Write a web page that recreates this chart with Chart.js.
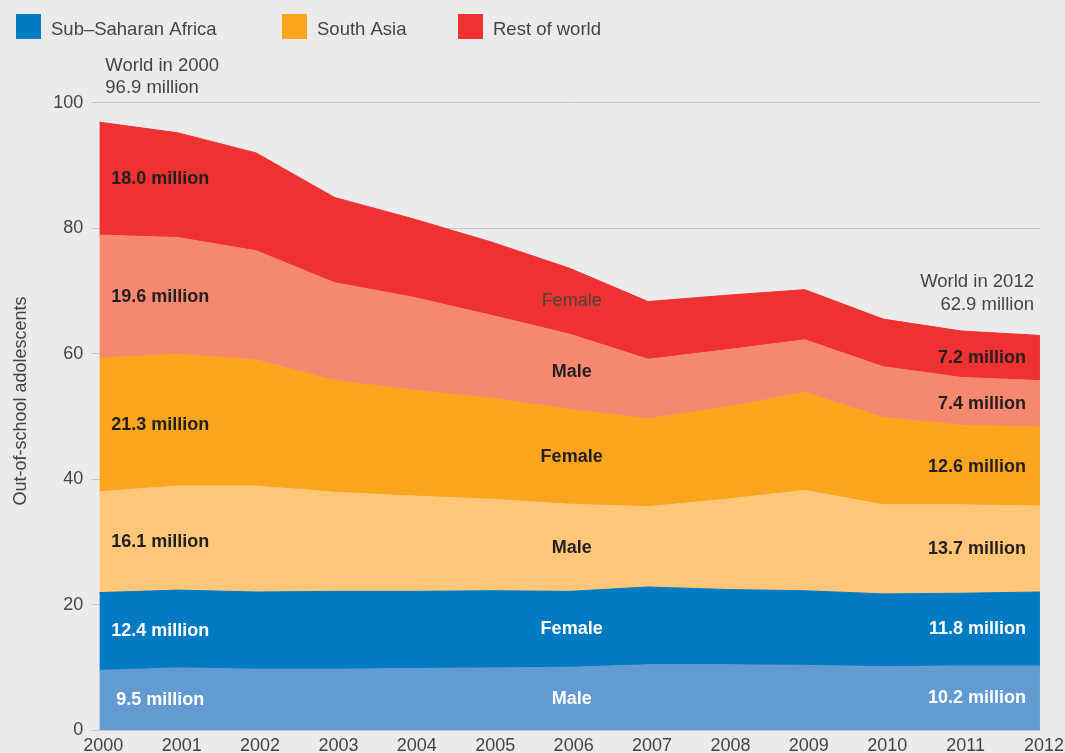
<!DOCTYPE html>
<html>
<head>
<meta charset="utf-8">
<script src="https://cdn.jsdelivr.net/npm/chart.js@4.4.1/dist/chart.umd.min.js"></script>
<style>
html,body{margin:0;padding:0;background:#EAEBEA;}
#wrap{width:1065px;height:753px;position:relative;}
canvas{display:block;}
</style>
</head>
<body>
<div id="wrap"><canvas id="c" width="1065" height="753"></canvas></div>
<script>
// ---- data (millions of out-of-school adolescents) ----
const years = ['2000','2001','2002','2003','2004','2005','2006','2007','2008','2009','2010','2011','2012'];
const ssaMale   = [9.5, 9.9, 9.7, 9.7, 9.8, 9.9, 10.0, 10.4, 10.4, 10.3, 10.1, 10.2, 10.2];
const ssaFemale = [12.4, 12.4, 12.3, 12.4, 12.3, 12.3, 12.1, 12.4, 12.0, 11.9, 11.6, 11.6, 11.8];
const saMale    = [16.1, 16.6, 16.9, 15.8, 15.2, 14.6, 13.9, 12.8, 14.4, 16.0, 14.2, 14.1, 13.7];
const saFemale  = [21.3, 21.0, 20.1, 17.8, 16.9, 16.1, 15.1, 14.0, 14.7, 15.6, 13.9, 12.7, 12.6];
const rowMale   = [19.6, 18.6, 17.4, 15.6, 14.8, 13.2, 12.0, 9.5, 9.1, 8.4, 8.1, 7.6, 7.4];
const rowFemale = [18.0, 16.7, 15.6, 13.6, 12.5, 11.7, 10.5, 9.2, 8.7, 8.0, 7.6, 7.4, 7.2];
const yTickValues = [0, 20, 40, 60, 80, 100];
const regions = ['Sub\u2013Saharan Africa', 'South Asia', 'Rest of world'];
const genders = ['Male', 'Female'];
const axisTitle = 'Out-of-school adolescents';

// ---- styles ----
const FONT = '"Liberation Sans", Arial, Helvetica, sans-serif';
const GRAY = '#444444';
const DARK = '#231F20';
const regionColors = ['#027BC3', '#F9A51E', '#EE3231'];
const layerColors = ['#619BD2', '#027BC3', '#FDC679', '#F9A51E', '#F5886F', '#EE3231'];
const layerText = ['#FFFFFF', '#FFFFFF', DARK, DARK, DARK, DARK];

const series = [ssaMale, ssaFemale, saMale, saFemale, rowMale, rowFemale];
const datasets = series.map((arr, k) => ({
  label: regions[Math.floor(k / 2)] + ' ' + genders[k % 2],
  data: arr,
  backgroundColor: layerColors[k],
  borderColor: layerColors[k],
  borderWidth: 1,
  pointRadius: 0,
  pointHoverRadius: 0,
  tension: 0,
  fill: k === 0 ? 'origin' : '-1'
}));

const totals = years.map((_, i) => series.reduce((s, a) => s + a[i], 0));

const deco = {
  id: 'deco',
  beforeDraw(chart) {
    const ctx = chart.ctx;
    ctx.save();
    ctx.fillStyle = '#EAEBEA';
    ctx.fillRect(0, 0, chart.width, chart.height);
    ctx.restore();
  },
  afterDraw(chart) {
    const ctx = chart.ctx;
    const xs = chart.scales.x, ys = chart.scales.y, ca = chart.chartArea;
    const last = years.length - 1;
    const midIdx = 6;
    function mid(k, i) {
      let base = 0;
      for (let j = 0; j < k; j++) base += series[j][i];
      return base + series[k][i] / 2;
    }
    ctx.save();
    // legend
    const legX = [16, 282, 458];
    ctx.font = '18.5px ' + FONT;
    ctx.textBaseline = 'alphabetic';
    ctx.textAlign = 'left';
    regions.forEach((r, i) => {
      ctx.fillStyle = regionColors[i];
      ctx.fillRect(legX[i], 14, 25, 25);
      ctx.fillStyle = GRAY;
      ctx.fillText(r, legX[i] + 35, 35);
    });
    // axis title
    ctx.save();
    ctx.translate(26, 401);
    ctx.rotate(-Math.PI / 2);
    ctx.textAlign = 'center';
    ctx.textBaseline = 'alphabetic';
    ctx.font = '18px ' + FONT;
    ctx.fillStyle = GRAY;
    ctx.fillText(axisTitle, 0, 0);
    ctx.restore();
    // world annotations
    ctx.font = '18.5px ' + FONT;
    ctx.fillStyle = GRAY;
    ctx.textAlign = 'left';
    ctx.fillText('World in ' + years[0], ca.left + 6, ca.top - 32);
    ctx.fillText(totals[0].toFixed(1) + ' million', ca.left + 6, ca.top - 10);
    const yEnd = ys.getPixelForValue(totals[last]);
    ctx.textAlign = 'right';
    ctx.fillText('World in ' + years[last], ca.right - 6, yEnd - 48);
    ctx.fillText(totals[last].toFixed(1) + ' million', ca.right - 6, yEnd - 25);
    // layer labels
    ctx.textBaseline = 'middle';
    for (let k = 0; k < series.length; k++) {
      ctx.fillStyle = layerText[k];
      ctx.font = 'bold 18px ' + FONT;
      // left
      ctx.textAlign = 'center';
      ctx.fillText(series[k][0].toFixed(1) + ' million', ca.left + 61, ys.getPixelForValue(mid(k, 0)));
      // right
      ctx.textAlign = 'right';
      ctx.fillText(series[k][last].toFixed(1) + ' million', ca.right - 14, ys.getPixelForValue(mid(k, last)));
      // middle
      ctx.textAlign = 'center';
      if (k === 5) { ctx.font = '18px ' + FONT; ctx.fillStyle = '#4A4344'; }
      ctx.fillText(genders[k % 2], xs.getPixelForValue(midIdx) + 2, ys.getPixelForValue(mid(k, midIdx)));
    }
    ctx.restore();
  }
};

new Chart(document.getElementById('c'), {
  type: 'line',
  data: { labels: years, datasets: datasets },
  plugins: [deco],
  options: {
    responsive: false,
    animation: false,
    events: [],
    layout: { padding: { top: 102.7, right: 24, left: 0, bottom: 0 } },
    plugins: { legend: { display: false }, tooltip: { enabled: false }, title: { display: false } },
    scales: {
      x: {
        type: 'category',
        offset: false,
        grid: { display: false, drawTicks: false },
        border: { display: false },
        ticks: { color: GRAY, font: { family: FONT, size: 18 }, padding: 5, maxRotation: 0, autoSkip: false, labelOffset: 4 },
        afterFit(s) { s.height = 23; }
      },
      y: {
        stacked: true,
        min: 0, max: 100,
        afterBuildTicks(s) { s.ticks = yTickValues.map(v => ({ value: v })); },
        grid: { color: '#C6C7C6', lineWidth: 1, drawTicks: true, tickLength: 8, tickColor: '#C6C7C6' },
        border: { display: false },
        ticks: { color: GRAY, font: { family: FONT, size: 18 }, padding: 8 },
        afterFit(s) { s.width = 99.3; }
      }
    }
  }
});
</script>
</body>
</html>
